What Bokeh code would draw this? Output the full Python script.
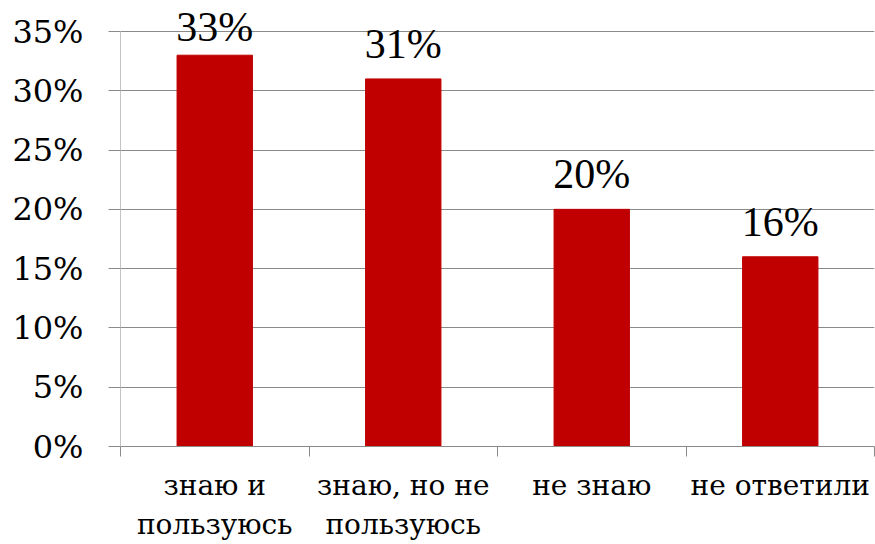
from bokeh.plotting import figure
from bokeh.models import ColumnDataSource, FixedTicker, NumeralTickFormatter, Range1d, LabelSet
from bokeh.embed import file_html
from bokeh.resources import INLINE

categories = ["знаю и\nпользуюсь", "знаю, но не\nпользуюсь", "не знаю", "не ответили"]
shares = [0.33, 0.31, 0.20, 0.16]
labels = ["33%", "31%", "20%", "16%"]
y_ticks = [0, 0.05, 0.10, 0.15, 0.20, 0.25, 0.30, 0.35]

FONT = "DejaVu Serif"
BAR = "#C00000"
GRID = "#8a8a8a"

xs = list(range(1, len(categories) + 1))
label_gaps = [14, 21, 21, 21]

# layout: axis area from y=31 (35%) to y=446 (0%); extra headroom for the top label
TOP_BORDER = 5
AXIS_TOP_PX, AXIS_BOTTOM_PX = 31, 446
y_max = y_ticks[-1]
y_end = y_max * (AXIS_BOTTOM_PX - TOP_BORDER) / (AXIS_BOTTOM_PX - AXIS_TOP_PX)

src = ColumnDataSource(dict(x=xs, top=shares, label=labels, gap=label_gaps))

x_start, x_end = 0.5, len(categories) + 0.5
p = figure(width=875, height=544, output_backend="svg", toolbar_location=None,
           x_range=Range1d(x_start, x_end), y_range=Range1d(0, y_end),
           min_border_left=120, min_border_right=1, min_border_top=TOP_BORDER,
           min_border_bottom=98)
p.outline_line_color = None
p.background_fill_color = "white"
p.border_fill_color = "white"

p.vbar(x="x", top="top", width=0.4, bottom=0, color=BAR, source=src)

# vertical axis line, only up to the last tick
p.segment(x0=[x_start], y0=[0], x1=[x_start], y1=[y_max], line_color=GRID, line_width=1)

ls = LabelSet(x="x", y="top", text="label", y_offset="gap", source=src,
              text_align="center", text_baseline="alphabetic",
              text_font=FONT, text_font_size="42px", text_color="#000000",
              level="overlay")
p.add_layout(ls)

# y axis
p.yaxis.ticker = FixedTicker(ticks=y_ticks)
p.yaxis.formatter = NumeralTickFormatter(format="0%")
p.yaxis.major_label_text_font = FONT
p.yaxis.major_label_text_font_size = "32px"
p.yaxis.major_label_text_color = "#000000"
p.yaxis.axis_line_color = None
p.yaxis.major_tick_line_color = GRID
p.yaxis.major_tick_out = 12
p.yaxis.major_tick_in = 0
p.yaxis.minor_tick_line_color = None
p.yaxis.major_label_standoff = 25

p.ygrid.ticker = FixedTicker(ticks=y_ticks)
p.ygrid.grid_line_color = GRID
p.ygrid.grid_line_width = 1
p.xgrid.grid_line_color = None

# x axis
p.xaxis.ticker = FixedTicker(ticks=xs, minor_ticks=[x - 0.5 for x in xs] + [xs[-1] + 0.5])
p.xaxis.major_label_overrides = {x: c for x, c in zip(xs, categories)}
p.xaxis.major_label_text_font = FONT
p.xaxis.major_label_text_font_size = "28px"
p.xaxis.major_label_text_color = "#000000"
p.xaxis.axis_line_color = GRID
p.xaxis.major_tick_line_color = None
p.xaxis.minor_tick_line_color = GRID
p.xaxis.minor_tick_out = 10
p.xaxis.minor_tick_in = 0
p.xaxis.major_label_standoff = 12

open("out.html", "w").write(file_html(p, INLINE))
